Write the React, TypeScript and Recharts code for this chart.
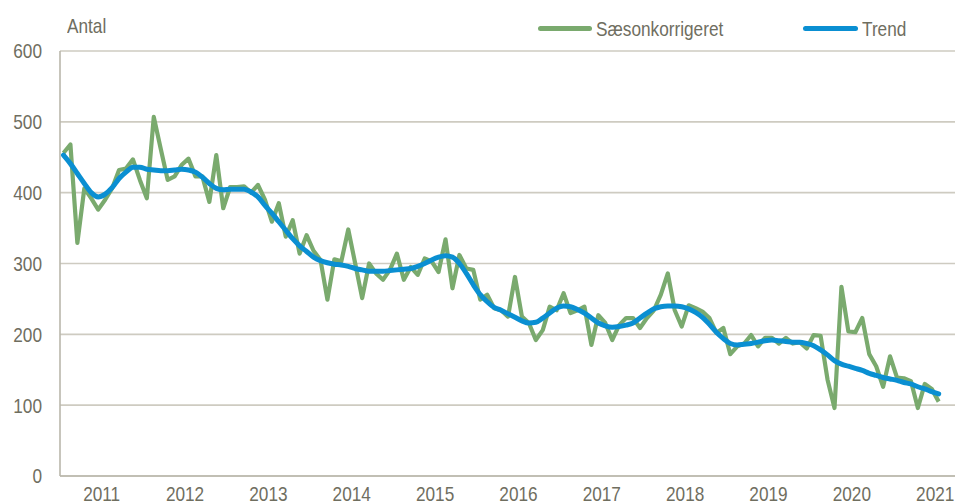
import React from 'react';
import { LineChart, Line, XAxis, YAxis, CartesianGrid } from 'recharts';

const years = ['2011', '2012', '2013', '2014', '2015', '2016', '2017', '2018', '2019', '2020', '2021'];
const yTicks = [0, 100, 200, 300, 400, 500, 600];

// Monthly values from Jan 2011 to Jul 2021
const seasonal = [
  456, 468, 329, 406, 392, 376, 390, 406, 432, 434, 447, 418,
  392, 507, 462, 418, 423, 439, 448, 423, 423, 387, 453, 378,
  408, 408, 409, 400, 411, 390, 359, 385, 338, 361, 314, 340,
  318, 305, 249, 306, 303, 348, 300, 251, 300, 286, 277, 291,
  314, 277, 295, 284, 307, 303, 288, 334, 265, 312, 293, 291,
  249, 256, 237, 234, 225, 281, 225, 216, 192, 206, 239, 234,
  258, 230, 234, 239, 185, 227, 216, 192, 213, 223, 223, 209,
  223, 234, 256, 286, 234, 211, 241, 237, 232, 223, 202, 209,
  172, 183, 187, 199, 183, 195, 195, 187, 195, 187, 189, 180,
  199, 198, 136, 96, 267, 204, 203, 223, 172, 155, 126, 169,
  139, 138, 134, 96, 130, 123, 105,
];

const trend = [
  453, 441, 427, 413, 400, 394, 398, 407, 420, 429, 436, 436,
  433, 432, 431, 431, 432, 433, 432, 429, 422, 413, 406, 404,
  405, 405, 405, 401, 394, 382, 371, 359, 347, 335, 325, 317,
  309, 304, 301, 299, 298, 296, 293, 291, 289, 289, 289, 290,
  291, 292, 293, 296, 300, 305, 309, 311, 309, 300, 286, 270,
  256, 246, 238, 234, 229, 224, 219, 216, 217, 223, 230, 237,
  240, 239, 235, 230, 223, 216, 212, 210, 211, 213, 216, 223,
  230, 236, 239, 240, 240, 239, 236, 231, 224, 214, 203, 194,
  187, 185, 186, 187, 189, 191, 192, 191, 190, 189, 189, 187,
  184, 178, 171, 163, 158, 155, 152, 149, 145, 142, 139, 137,
  135, 132, 130, 126, 123, 119, 116,
];

const data = seasonal.map((v, i) => ({ x: i + 0.5, s: v, t: trend[i] }));
const yearStarts = years.map((_, k) => k * 12);
const yearMids = years.map((_, k) => k * 12 + 6);

const FONT = "'Liberation Sans', Arial, sans-serif";
const NARROW = 0.82;
const TEXT = '#6f6e5f';
const GREEN = '#7aaa6e';
const BLUE = '#0a8fd2';

const XTick = (props: any) => {
  const { x, y, payload } = props;
  const idx = yearMids.indexOf(payload.value);
  return (
    <text
      transform={`translate(${x},${y - 1}) scale(${NARROW},1)`}
      dy="0.71em"
      textAnchor="middle"
      fill={TEXT}
      fontSize={21}
      fontFamily={FONT}
    >
      {years[idx]}
    </text>
  );
};

const YTick = (props: any) => {
  const { x, y, payload } = props;
  return (
    <text
      transform={`translate(${x},${y}) scale(${NARROW},1)`}
      dy="0.355em"
      textAnchor="end"
      fill={TEXT}
      fontSize={21}
      fontFamily={FONT}
    >
      {payload.value}
    </text>
  );
};

const narrowText: React.CSSProperties = {
  position: 'absolute',
  fontFamily: FONT,
  fontSize: 21,
  color: TEXT,
  lineHeight: '25px',
  whiteSpace: 'nowrap',
  transform: `scaleX(${NARROW})`,
  transformOrigin: 'left center',
};

export default function App() {
  return (
    <div style={{ position: 'relative', width: 955, height: 495 }}>
      <LineChart width={955} height={495} data={data} margin={{ top: 43, right: 0, bottom: 0, left: 0 }}>
        <CartesianGrid
          stroke="#cecbc1"
          strokeWidth={1.6}
          verticalCoordinatesGenerator={({ xAxis }: any) =>
            xAxis && typeof xAxis.scale === 'function' ? yearStarts.map((v) => xAxis.scale(v)) : []
          }
        />
        <XAxis
          type="number"
          dataKey="x"
          domain={[0, 130]}
          ticks={yearMids}
          interval={0}
          height={27}
          tickLine={false}
          tickMargin={5}
          axisLine={{ stroke: '#b9b7ab', strokeWidth: 1.6 }}
          tick={<XTick />}
        />
        <YAxis
          domain={[0, 600]}
          ticks={yTicks}
          interval={0}
          width={52}
          tickLine={false}
          tickMargin={12}
          axisLine={{ stroke: '#b9b7ab', strokeWidth: 1.6 }}
          tick={<YTick />}
        />
        <Line
          type="linear"
          dataKey="s"
          stroke={GREEN}
          strokeWidth={4.2}
          dot={false}
          strokeLinejoin="round"
          isAnimationActive={false}
        />
        <Line
          type="monotone"
          dataKey="t"
          stroke={BLUE}
          strokeWidth={5}
          dot={false}
          strokeLinecap="round"
          isAnimationActive={false}
        />
      </LineChart>
      <div style={{ ...narrowText, left: 59, top: 5 }}>Antal</div>
      <div style={{ position: 'absolute', left: 530, top: 18, width: 54, height: 4.5, background: GREEN, borderRadius: 3 }} />
      <div style={{ ...narrowText, left: 588, top: 8 }}>Sæsonkorrigeret</div>
      <div style={{ position: 'absolute', left: 795, top: 18, width: 55, height: 4.5, background: BLUE, borderRadius: 3 }} />
      <div style={{ ...narrowText, left: 854, top: 8 }}>Trend</div>
    </div>
  );
}
